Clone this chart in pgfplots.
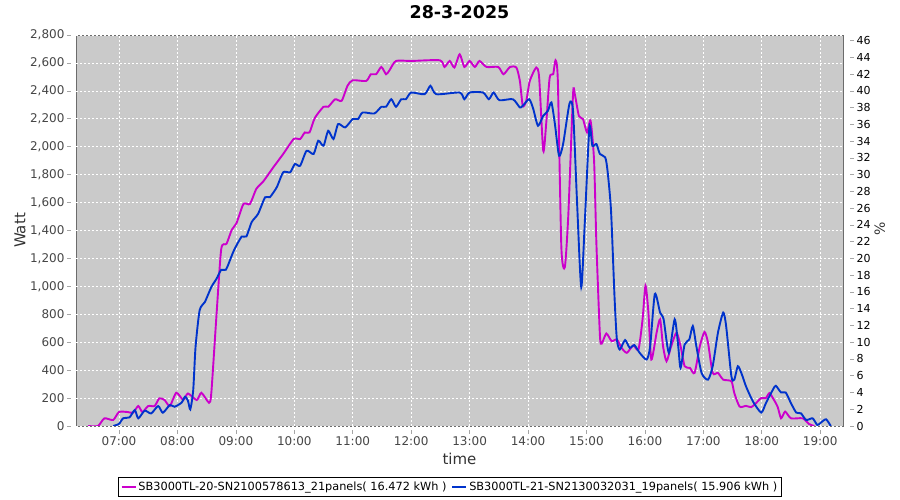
\documentclass[border=0pt]{standalone}
\usepackage{pgfplots}
\pgfplotsset{compat=1.18}
\usepackage{fontspec}
\setmainfont{DejaVu Sans}
\definecolor{plotbg}{RGB}{202,202,202}
\definecolor{mag}{RGB}{204,0,204}
\definecolor{blu}{RGB}{0,51,204}
\definecolor{axgray}{RGB}{165,165,165}
\definecolor{ticklab}{RGB}{70,70,70}

\begin{document}
\begin{tikzpicture}[x=1pt,y=1pt]
\path (-76,-74) rectangle (824,426);
\begin{axis}[
  at={(0,0)}, anchor=south west, scale only axis,
  width=767pt, height=391pt,
  xmin=6.264, xmax=19.39, ymin=0, ymax=2800,
  axis line style={draw=none},
  axis background/.style={fill=plotbg, draw=gray!85!black, line width=0.8pt},
  xtick={7,...,19},
  xticklabels={07:00,08:00,09:00,10:00,11:00,12:00,13:00,14:00,15:00,16:00,17:00,18:00,19:00},
  ytick={0,200,...,2800},
  tick align=outside, major tick length=4pt,
  xtick style={yshift=-4pt, axgray, line width=0.6pt},
  ytick style={xshift=-5pt, axgray, line width=0.6pt},
  xtick pos=bottom, ytick pos=left,
  tick label style={font=\fontsize{12}{14}\selectfont, text=ticklab},
  yticklabel style={xshift=-4pt},
  xticklabel style={yshift=-3pt},
  /pgf/number format/assume math mode=true,
  /pgf/number format/.cd, 1000 sep={,}, /pgfplots/.cd,
  scaled y ticks=false,
  grid=major,
  major grid style={white, dash pattern=on 2pt off 2pt, line width=0.6pt},
  title={28-3-2025},
  title style={font=\bfseries\fontsize{17.5}{20}\selectfont, at={(axis description cs:0.5,1)}, anchor=center, yshift=17pt},
  xlabel={time},
  xlabel style={font=\fontsize{15}{18}\selectfont, text=black!80, at={(axis description cs:0.5,-0.0844)}, anchor=center},
  ylabel={Watt},
  ylabel style={font=\fontsize{15}{18}\selectfont, text=black!80, at={(axis description cs:-0.073,0.5)}, anchor=center},
  legend style={at={(axis description cs:0.4876,-0.156)}, anchor=center, legend columns=2, draw=black, line width=0.8pt,
    font=\fontsize{11.3}{13}\selectfont, inner sep=2.5pt, /tikz/every even column/.append style={column sep=3pt}},
  legend image code/.code={\draw[#1, line width=1.8pt] (0pt,0pt) -- (14pt,0pt);},
  legend cell align=left,
]
\draw[axgray, line width=0.6pt] ([xshift=-5pt]rel axis cs:0,0) -- ([xshift=-5pt]rel axis cs:0,1);
\draw[axgray, line width=0.6pt] ([yshift=-4pt]rel axis cs:0,0) -- ([yshift=-4pt]rel axis cs:1,0);

\addplot[mag, line width=1.9pt, smooth, tension=0.4] coordinates {
(6.47,0) (6.64,0) (6.75,55) (6.90,43) (7.00,100) (7.15,100) (7.24,95) (7.33,143) (7.40,100)
(7.50,143) (7.61,143) (7.69,198) (7.78,186) (7.87,143) (7.98,238) (8.10,186) (8.18,233)
(8.33,186) (8.41,238) (8.54,167) (8.58,238) (8.67,805) (8.75,1269) (8.84,1305) (8.93,1405)
(9.01,1452) (9.13,1590) (9.24,1590) (9.35,1698) (9.47,1752) (9.64,1852) (9.81,1948)
(9.99,2055) (10.10,2055) (10.18,2102) (10.26,2102) (10.35,2205) (10.50,2286) (10.58,2286)
(10.70,2340) (10.81,2329) (10.91,2436) (11.00,2476) (11.23,2471) (11.31,2519) (11.40,2519)
(11.49,2571) (11.57,2519) (11.63,2548) (11.74,2614) (12.00,2614) (12.49,2619) (12.57,2571)
(12.66,2614) (12.74,2567) (12.83,2662) (12.91,2571) (13.00,2614) (13.09,2571) (13.17,2614)
(13.29,2571) (13.49,2571) (13.58,2519) (13.69,2571) (13.80,2567) (13.86,2471) (13.91,2293)
(13.97,2329) (14.03,2471) (14.14,2567) (14.19,2495) (14.26,1971) (14.31,2162) (14.37,2495)
(14.43,2519) (14.47,2619) (14.51,2471) (14.57,1281) (14.63,1138) (14.69,1519) (14.77,2376)
(14.80,2376) (14.87,2221) (14.94,2198) (15.01,2102) (15.07,2186) (15.13,1900) (15.17,1305)
(15.23,650) (15.26,590) (15.34,662) (15.43,608) (15.52,620) (15.60,560) (15.69,524)
(15.80,577) (15.89,548) (15.96,764) (16.01,1005) (16.06,812) (16.11,476) (16.20,668)
(16.26,764) (16.31,572) (16.37,464) (16.45,572) (16.54,668) (16.61,572) (16.68,428)
(16.77,416) (16.85,380) (16.94,572) (17.02,673) (17.08,596) (17.16,380) (17.25,380)
(17.34,332) (17.48,320) (17.53,236) (17.62,139) (17.73,144) (17.82,135) (17.90,163)
(17.99,200) (18.07,200) (18.13,236) (18.19,200) (18.27,139) (18.33,55) (18.40,103)
(18.50,55) (18.70,55) (18.81,14) (18.90,0)
};
\addlegendentry{SB3000TL-20-SN2100578613\_21panels( 16.472 kWh )}

\addplot[blu, line width=1.9pt, smooth, tension=0.4] coordinates {
(6.90,0) (7.00,15) (7.07,55) (7.18,62) (7.27,114) (7.33,55) (7.44,110) (7.55,90) (7.67,143)
(7.75,95) (7.87,150) (7.95,138) (8.07,167) (8.13,210) (8.18,181) (8.22,119) (8.27,257)
(8.31,567) (8.38,829) (8.47,888) (8.58,995) (8.67,1055) (8.75,1119) (8.83,1119) (8.93,1221)
(8.98,1269) (9.10,1357) (9.18,1357) (9.27,1460) (9.38,1519) (9.50,1638) (9.58,1638)
(9.70,1710) (9.81,1817) (9.93,1817) (10.01,1876) (10.10,1864) (10.21,1971) (10.33,1948)
(10.41,2043) (10.50,2007) (10.58,2114) (10.67,2055) (10.75,2162) (10.87,2138) (11.00,2198)
(11.09,2198) (11.17,2245) (11.37,2238) (11.49,2286) (11.57,2286) (11.66,2340) (11.74,2286)
(11.83,2340) (11.91,2340) (12.00,2388) (12.23,2376) (12.33,2436) (12.43,2376) (12.83,2388)
(12.91,2340) (13.00,2388) (13.23,2388) (13.33,2340) (13.41,2388) (13.51,2333) (13.74,2340)
(13.86,2281) (13.91,2293) (14.02,2340) (14.09,2269) (14.17,2150) (14.26,2221) (14.34,2257)
(14.40,2317) (14.46,2162) (14.53,1936) (14.60,2019) (14.71,2310) (14.77,2257) (14.84,1590)
(14.91,995) (14.97,1448) (15.05,2138) (15.10,2007) (15.17,2019) (15.23,1948) (15.32,1924)
(15.36,1829) (15.42,1543) (15.48,924) (15.52,620) (15.57,548) (15.66,615) (15.74,560)
(15.82,579) (15.91,524) (16.03,476) (16.09,572) (16.17,945) (16.26,812) (16.32,764)
(16.41,524) (16.51,764) (16.57,572) (16.61,416) (16.68,584) (16.76,620) (16.82,716)
(16.88,572) (16.97,380) (17.08,332) (17.16,428) (17.25,668) (17.34,812) (17.39,716)
(17.48,356) (17.53,332) (17.59,428) (17.65,380) (17.73,284) (17.85,175) (17.99,96)
(18.07,163) (18.19,260) (18.24,288) (18.33,240) (18.41,240) (18.50,163) (18.59,96)
(18.67,91) (18.76,43) (18.87,55) (18.95,7) (19.01,24) (19.10,48) (19.18,0)
};
\addlegendentry{SB3000TL-21-SN2130032031\_19panels( 15.906 kWh )}
\end{axis}

\begin{axis}[
  at={(0,0)}, anchor=south west, scale only axis,
  width=767pt, height=391pt,
  xmin=6.264, xmax=19.39, ymin=0, ymax=46.667,
  hide x axis,
  axis y line*=right,
  y axis line style={draw=none},
  ytick={0,2,...,46},
  tick align=outside, major tick length=4pt,
  ytick style={xshift=7pt, axgray, line width=0.6pt},
  yticklabel style={font=\fontsize{11}{13}\selectfont, text=black, xshift=6pt},
  /pgf/number format/assume math mode=true,
  ylabel={\%},
  ylabel style={font=\fontsize{14}{16}\selectfont, text=black!80, at={(axis description cs:1.048,0.504)}, anchor=center},
]
\draw[axgray, line width=0.6pt] ([xshift=7pt]rel axis cs:1,0) -- ([xshift=7pt]rel axis cs:1,1);
\end{axis}
\end{tikzpicture}
\end{document}
